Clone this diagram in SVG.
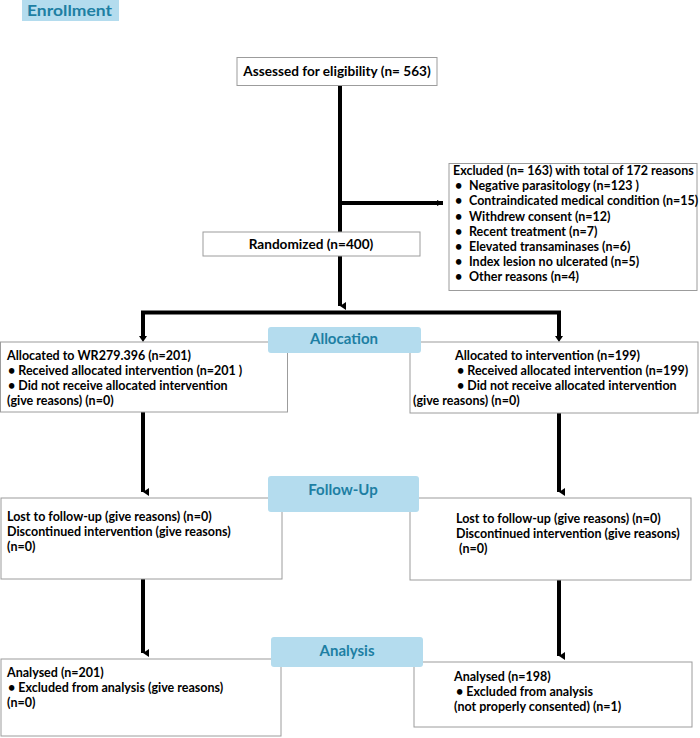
<svg xmlns="http://www.w3.org/2000/svg" width="700" height="738" viewBox="0 0 700 738">
<style>
.box{fill:#fff;stroke:#9c9c9c;stroke-width:1}
.lbl{fill:#b4dcee}
.lt{font-family:Lato,"Liberation Sans",sans-serif;font-weight:bold;font-size:15px;fill:#1d7fa3;text-anchor:middle}
.t{font-family:Lato,"Liberation Sans",sans-serif;font-weight:bold;font-size:12.5px;fill:#000}
.big{font-size:13.6px}
.ln{stroke:#000;stroke-width:4;fill:none}
</style>
<defs>
<marker id="ah" markerUnits="userSpaceOnUse" markerWidth="10" markerHeight="8" refX="4" refY="6" orient="auto-start-reverse" viewBox="0 0 10 8">
<path d="M0,0 L8,0 L4,6 Z" fill="#000"/>
</marker>
<marker id="ahr" markerUnits="userSpaceOnUse" markerWidth="8" markerHeight="8" refX="6" refY="4" orient="0" viewBox="0 0 8 8">
<path d="M0,1 L6,4 L0,7 Z" fill="#000"/>
</marker>
</defs>
<rect width="700" height="738" fill="#fff"/>
<g id="connectors">
<line class="ln" x1="340" y1="85" x2="340" y2="232"/>
<line class="ln" x1="340" y1="203" x2="443" y2="203" stroke-width="3" marker-end="url(#ahr)"/>
<line class="ln" x1="340" y1="256" x2="340" y2="306" marker-end="url(#ah)"/>
<polyline class="ln" points="143,336 143,312.5 559,312.5 559,336"/>
<path d="M139,336 L147,336 L143,342 Z" fill="#000"/>
<path d="M555,336 L563,336 L559,342 Z" fill="#000"/>
<line class="ln" x1="143" y1="412" x2="143" y2="492" marker-end="url(#ah)"/>
<line class="ln" x1="559" y1="413" x2="559" y2="492" marker-end="url(#ah)"/>
<line class="ln" x1="143" y1="579" x2="143" y2="653" marker-end="url(#ah)"/>
<line class="ln" x1="559" y1="580" x2="559" y2="656" marker-end="url(#ah)"/>
</g>
<g id="enrollment">
<rect class="lbl" x="22" y="0" width="97" height="21"/>
<text class="lt" x="69.5" y="16" font-size="17" textLength="85" lengthAdjust="spacingAndGlyphs">Enrollment</text>
</g>
<g id="assessed">
<rect class="box" x="237" y="57.5" width="200" height="28"/>
<text class="t big" x="337" y="76" text-anchor="middle">Assessed for eligibility (n= 563)</text>
</g>
<g id="excluded">
<rect class="box" x="449" y="163.5" width="248" height="127"/>
<text class="t" x="453" y="175">Excluded (n= 163) with total of 172 reasons</text>
<g class="t">
<text x="455" y="190">•</text><text x="469" y="190">Negative parasitology (n=123 )</text>
<text x="455" y="205">•</text><text x="469" y="205">Contraindicated medical condition (n=15)</text>
<text x="455" y="220.5">•</text><text x="469" y="220.5">Withdrew consent (n=12)</text>
<text x="455" y="235.5">•</text><text x="469" y="235.5">Recent treatment (n=7)</text>
<text x="455" y="251">•</text><text x="469" y="251">Elevated transaminases (n=6)</text>
<text x="455" y="266">•</text><text x="469" y="266">Index lesion no ulcerated (n=5)</text>
<text x="455" y="281">•</text><text x="469" y="281">Other reasons (n=4)</text>
</g>
</g>
<g id="randomized">
<rect class="box" x="203" y="232" width="217" height="24"/>
<text class="t big" x="311" y="249" text-anchor="middle">Randomized (n=400)</text>
</g>
<g id="alloc-left">
<rect class="box" x="0.5" y="342" width="287" height="70"/>
<text class="t" x="7" y="360">Allocated to WR279.396 (n=201)</text>
<text class="t" x="8" y="375">• Received allocated intervention (n=201  )</text>
<text class="t" x="8" y="390">• Did not receive allocated intervention</text>
<text class="t" x="7" y="405">(give reasons) (n=0)</text>
</g>
<g id="alloc-right">
<rect class="box" x="410" y="342" width="288" height="71"/>
<text class="t" x="455" y="360">Allocated to intervention (n=199)</text>
<text class="t" x="457" y="375">• Received allocated intervention (n=199)</text>
<text class="t" x="457" y="390">• Did not receive allocated intervention</text>
<text class="t" x="413" y="405">(give reasons) (n=0)</text>
</g>
<g id="allocation">
<rect class="lbl" x="268" y="327" width="153" height="26" rx="3"/>
<text class="lt" x="344" y="344">Allocation</text>
</g>
<g id="followup-left">
<rect class="box" x="1" y="498" width="281" height="81"/>
<text class="t" x="7" y="521">Lost to follow-up (give reasons) (n=0)</text>
<text class="t" x="7" y="536">Discontinued intervention (give reasons)</text>
<text class="t" x="7" y="551">(n=0)</text>
</g>
<g id="followup-right">
<rect class="box" x="410" y="498" width="281" height="82"/>
<text class="t" x="456" y="523">Lost to follow-up (give reasons) (n=0)</text>
<text class="t" x="456" y="538">Discontinued intervention (give reasons)</text>
<text class="t" x="459" y="553">(n=0)</text>
</g>
<g id="followup">
<rect class="lbl" x="268" y="476" width="151" height="36" rx="3"/>
<text class="lt" x="343" y="495">Follow-Up</text>
</g>
<g id="analysis-left">
<rect class="box" x="1" y="659" width="280" height="77"/>
<text class="t" x="7" y="677">Analysed (n=201)</text>
<text class="t" x="8" y="692">• Excluded from analysis (give reasons)</text>
<text class="t" x="7" y="707">(n=0)</text>
</g>
<g id="analysis-right">
<rect class="box" x="414" y="662" width="278" height="65"/>
<text class="t" x="454" y="681">Analysed (n=198)</text>
<text class="t" x="456" y="696">• Excluded from analysis</text>
<text class="t" x="454" y="711">(not properly consented) (n=1)</text>
</g>
<g id="analysis">
<rect class="lbl" x="271" y="637" width="152" height="30" rx="3"/>
<text class="lt" x="347" y="656">Analysis</text>
</g>
</svg>
